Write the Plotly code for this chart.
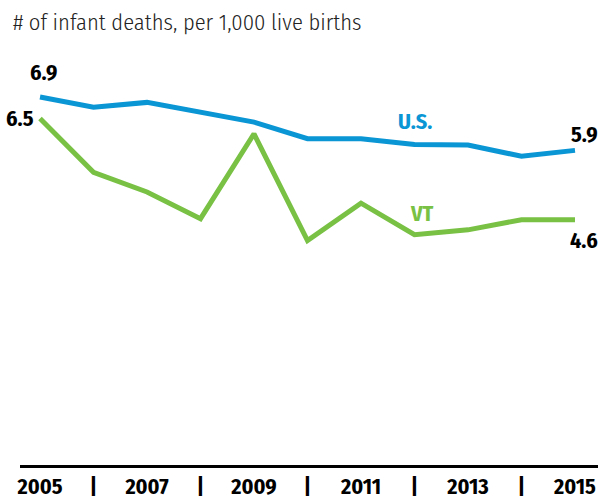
import plotly.graph_objects as go

years = list(range(2005, 2016))
us_rate = [6.9, 6.71, 6.8, 6.62, 6.43, 6.12, 6.12, 6.01, 6.0, 5.79, 5.9]
vt_rate = [6.5, 5.49, 5.12, 4.62, 6.21, 4.21, 4.91, 4.32, 4.41, 4.6, 4.6]
tick_text = ["2005", "|", "2007", "|", "2009", "|", "2011", "|", "2013", "|", "2015"]
title_text = "# of infant deaths, per 1,000 live births"

BLUE = "#0a95d5"
GREEN = "#78c144"
FONT = "Fira Sans Condensed, PT Sans Narrow, Liberation Sans Narrow, sans-serif"

fig = go.Figure()
fig.add_trace(go.Scatter(x=years, y=us_rate, mode="lines", name="U.S.",
                         line=dict(color=BLUE, width=5), hoverinfo="x+y"))
fig.add_trace(go.Scatter(x=years, y=vt_rate, mode="lines", name="VT",
                         line=dict(color=GREEN, width=5), hoverinfo="x+y"))

lab_font = dict(family=FONT, size=22, color="black", weight="bold")

ann = [
    dict(x=years[0], y=us_rate[0], text=f"{us_rate[0]:.1f}", xanchor="center", yanchor="middle",
         xshift=3, yshift=25, font=lab_font),
    dict(x=years[0], y=vt_rate[0], text=f"{vt_rate[0]:.1f}", xanchor="right", yanchor="middle",
         xshift=-4, yshift=0, font=lab_font),
    dict(x=years[-1], y=us_rate[-1], text=f"{us_rate[-1]:.1f}", xanchor="right", yanchor="middle",
         xshift=25, yshift=16, font=lab_font),
    dict(x=years[-1], y=vt_rate[-1], text=f"{vt_rate[-1]:.1f}", xanchor="right", yanchor="middle",
         xshift=25, yshift=-21, font=lab_font),
    dict(x=2012.0, y=6.45, text="U.S.", xanchor="center", yanchor="middle",
         font=dict(family=FONT, size=22, color=BLUE, weight="bold")),
    dict(x=2012.14, y=4.71, text="VT", xanchor="center", yanchor="middle",
         font=dict(family=FONT, size=22, color=GREEN, weight="bold")),
]
for a in ann:
    a.update(showarrow=False, xref="x", yref="y")

fig.update_layout(
    width=598, height=496,
    margin=dict(l=20, r=0, t=40, b=31, pad=0, autoexpand=False),
    paper_bgcolor="white", plot_bgcolor="white",
    showlegend=False,
    title=dict(text=title_text, x=13/598, xanchor="left", y=1 - 22/496, yanchor="middle",
               xref="container", yref="container",
               font=dict(family=FONT, size=22.5, color="#222222", weight=300)),
    annotations=ann,
    xaxis=dict(range=[2004.626, 2015.43], tickvals=years, ticktext=tick_text,
               showgrid=False, zeroline=False, showline=True, linewidth=3, linecolor="black",
               ticks="", ticklabelstandoff=0, automargin=False,
               tickfont=dict(family=FONT, size=22, color="black", weight="bold")),
    yaxis=dict(range=[0, 7.97], visible=False, showgrid=False, zeroline=False, automargin=False),
)

fig.write_html("out.html", config={"displayModeBar": False},
               post_script="document.body.style.margin='0';document.body.style.overflow='hidden';")
